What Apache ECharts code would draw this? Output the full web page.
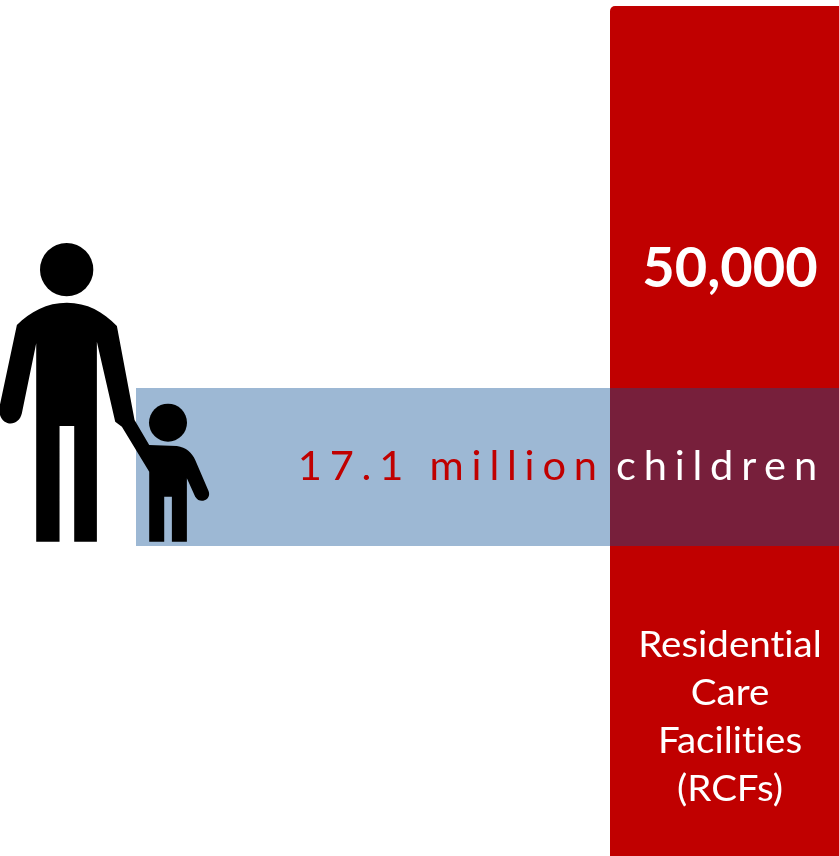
<!DOCTYPE html>
<html><head><meta charset="utf-8">
<style>html,body{margin:0;padding:0;background:#fff}#c{width:839px;height:856px}</style>
<script src="https://cdn.jsdelivr.net/npm/echarts@6/dist/echarts.min.js"></script>
</head><body><div id="c"></div>
<script>
const facilityValues = [50000];
const childrenValues = [17.1];
const facilityCount = '50,000';
const childrenLeft = '17.1 million';
const childrenRight = 'children';
const facilityLines = ['Residential', 'Care', 'Facilities', '(RCFs)'];

const spaced = (s, gap) => Array.from(s).join(gap);
const WIDE = '\u2009\u200A';
const NOLIG = '\u200C';
const font = 'Lato, "Open Sans", sans-serif';

const manHead = {cx: 200, cy: 119, r: 80};
const childHead = {cx: 504, cy: 578, r: 57};
const figurePath =
 'M200 218 C260 218 310 245 350 288 L403 570 L447 645 L530 648 C558 652 575 668 585 690 ' +
 'L625 783 C635 808 600 825 585 800 L560 745 L560 935 L515 935 L515 800 L492 800 L492 935 L447 935 L447 725 ' +
 'L365 590 L345 575 L290 335 L290 935 L222 935 L222 588 L178 588 L178 935 L108 935 L108 340 ' +
 'L65 550 C55 595 -5 590 -3 535 L50 285 C90 245 140 218 200 218 Z';

const chart = echarts.init(document.getElementById('c'), null, {renderer: 'canvas'});
const hiddenCat = i => ({type: 'category', data: [''], show: false, gridIndex: i});
const hiddenVal = (i, max) => ({type: 'value', min: 0, max: max, show: false, gridIndex: i});

chart.setOption({
  backgroundColor: '#ffffff',
  animation: false,
  grid: [
    {left: 610, top: 6, width: 229, height: 850},
    {left: 136, top: 388, width: 703, height: 158}
  ],
  xAxis: [hiddenCat(0), hiddenVal(1, childrenValues[0])],
  yAxis: [hiddenVal(0, facilityValues[0]), hiddenCat(1)],
  series: [
    {type: 'bar', xAxisIndex: 0, yAxisIndex: 0, data: facilityValues, barWidth: '100%',
     itemStyle: {color: '#C00000', borderRadius: [5, 0, 0, 0]}, silent: true, z: 1},
    {type: 'bar', xAxisIndex: 1, yAxisIndex: 1, data: childrenValues, barWidth: '100%',
     itemStyle: {color: 'rgba(10,77,147,0.4)'}, silent: true, z: 2},
    {type: 'custom', coordinateSystem: 'none', data: [0], silent: true, z: 5,
     renderItem: () => ({
       type: 'group', x: 0, y: 230, scaleX: 1/3, scaleY: 1/3,
       children: [
         {type: 'circle', shape: manHead, style: {fill: '#000'}},
         {type: 'circle', shape: childHead, style: {fill: '#000'}},
         {type: 'path', shape: {pathData: figurePath, x: -3, y: 218, width: 631, height: 717},
          style: {fill: '#000'}}
       ]
     })}
  ],
  graphic: [
    {type: 'text', x: 730, y: 269, z: 6, style: {text: facilityCount, fill: '#fff', font: `bold 56px ${font}`, align: 'center', verticalAlign: 'middle'}},
    {type: 'text', x: 597, y: 467, scaleX: 1.04, z: 6, style: {text: spaced(childrenLeft, WIDE), fill: '#C00000', font: `40px ${font}`, align: 'right', verticalAlign: 'middle'}},
    {type: 'text', x: 616, y: 467, scaleX: 1.04, z: 6, style: {text: spaced(childrenRight, WIDE), fill: '#fff', font: `40px ${font}`, align: 'left', verticalAlign: 'middle'}},
    {type: 'text', x: 730, y: 717, scaleX: 1.07, z: 6, style: {text: facilityLines.map(l => spaced(l, NOLIG)).join('\n'), fill: '#fff', font: `36px ${font}`, lineHeight: 48, align: 'center', verticalAlign: 'middle'}}
  ]
});
</script></body></html>
